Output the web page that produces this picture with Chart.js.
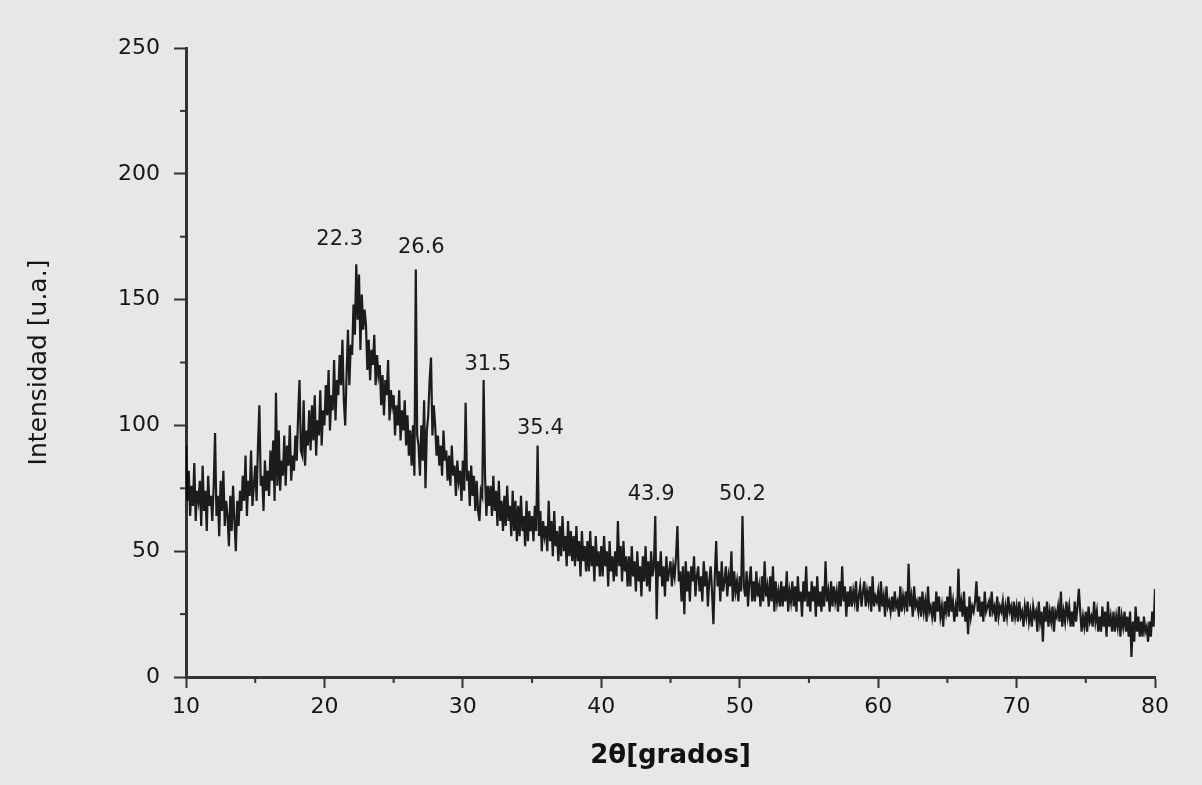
<!DOCTYPE html>
<html>
<head>
<meta charset="utf-8">
<title>Difractograma</title>
<script src="https://cdn.jsdelivr.net/npm/chart.js@4.4.1/dist/chart.umd.min.js"></script>
<style>
	html, body { margin: 0; padding: 0; background: #e7e7e7; }
	#graficoDRX { display: block; }
</style>
</head>
<body>
<canvas id="graficoDRX" width="1202" height="785"></canvas>
<script>
/* Datos del difractograma (2θ de 10 a 80, paso 0.1) */
var inicio2Theta = 10;
var paso2Theta = 0.1;

var intensidad = [
	92, 70, 82, 64, 76, 68, 85, 62, 74, 70,
	78, 60, 84, 66, 74, 58, 80, 68, 72, 62,
	76, 97, 64, 72, 56, 78, 66, 82, 60, 70,
	64, 52, 72, 58, 76, 62, 50, 70, 60, 74,
	66, 80, 70, 88, 64, 78, 72, 90, 68, 76,
	84, 70, 92, 108, 76, 80, 66, 86, 74, 82,
	72, 90, 78, 94, 70, 113, 76, 98, 74, 86,
	80, 96, 76, 92, 84, 100, 78, 88, 82, 96,
	86, 104, 118, 90, 88, 110, 84, 98, 92, 106,
	90, 108, 94, 112, 88, 102, 96, 114, 92, 106,
	100, 116, 104, 122, 98, 112, 106, 126, 102, 118,
	112, 128, 116, 134, 110, 100, 120, 138, 116, 132,
	128, 148, 136, 164, 142, 160, 130, 152, 138, 146,
	140, 122, 134, 118, 130, 124, 136, 116, 128, 120,
	124, 108, 120, 104, 118, 112, 126, 102, 114, 108,
	112, 96, 108, 100, 114, 94, 106, 98, 110, 92,
	104, 88, 98, 84, 100, 80, 162, 96, 92, 80,
	100, 86, 110, 75, 98, 104, 118, 127, 96, 108,
	100, 88, 96, 84, 92, 80, 98, 86, 90, 78,
	88, 76, 92, 80, 84, 72, 86, 78, 82, 70,
	86, 74, 109, 78, 82, 68, 84, 72, 80, 66,
	78, 66, 62, 74, 72, 118, 80, 64, 76, 68,
	76, 64, 80, 66, 74, 60, 78, 62, 70, 58,
	72, 60, 76, 62, 68, 56, 74, 58, 70, 54,
	68, 56, 72, 58, 64, 52, 70, 54, 66, 58,
	64, 54, 68, 58, 92, 56, 66, 50, 62, 56,
	60, 50, 70, 54, 62, 48, 66, 52, 58, 46,
	60, 48, 64, 50, 56, 44, 62, 48, 58, 46,
	56, 44, 60, 46, 54, 40, 58, 46, 52, 42,
	54, 42, 58, 44, 52, 38, 56, 44, 50, 40,
	52, 40, 56, 44, 50, 36, 54, 42, 48, 38,
	50, 40, 62, 44, 52, 38, 54, 42, 48, 36,
	48, 36, 52, 40, 46, 34, 50, 38, 44, 32,
	48, 38, 52, 36, 46, 34, 50, 40, 44, 64,
	23, 46, 40, 50, 36, 44, 32, 48, 38, 42,
	46, 36, 44, 40, 48, 60, 38, 42, 30, 44,
	25, 46, 34, 42, 30, 44, 38, 48, 32, 40,
	44, 34, 40, 30, 46, 36, 42, 28, 38, 44,
	34, 21, 40, 54, 36, 42, 30, 46, 34, 38,
	44, 32, 40, 36, 50, 30, 42, 34, 38, 30,
	40, 34, 64, 36, 32, 42, 28, 38, 44, 30,
	38, 30, 42, 32, 36, 28, 40, 30, 46, 32,
	36, 28, 40, 30, 44, 26, 38, 30, 34, 28,
	38, 28, 36, 30, 42, 26, 34, 30, 38, 28,
	36, 26, 40, 30, 34, 24, 38, 30, 44, 28,
	34, 26, 38, 30, 36, 24, 40, 28, 34, 26,
	36, 28, 46, 30, 34, 26, 38, 28, 36, 30,
	34, 26, 38, 28, 44, 30, 36, 24, 34, 28,
	36, 28, 34, 30, 38, 26, 32, 36, 28, 34,
	38, 28, 34, 30, 36, 26, 40, 28, 32, 30,
	34, 26, 38, 28, 32, 24, 36, 28, 30, 26,
	32, 26, 34, 28, 30, 24, 36, 26, 32, 28,
	34, 26, 45, 28, 32, 24, 36, 28, 30, 26,
	32, 24, 34, 26, 30, 22, 36, 26, 28, 24,
	30, 22, 34, 26, 32, 24, 28, 20, 30, 26,
	32, 24, 36, 26, 30, 22, 28, 24, 43, 26,
	30, 24, 34, 22, 28, 17, 32, 24, 28, 26,
	30, 38, 26, 32, 24, 30, 22, 34, 26, 28,
	30, 24, 34, 26, 28, 22, 32, 24, 28, 26,
	30, 22, 28, 24, 32, 26, 28, 22, 30, 24,
	28, 22, 30, 24, 26, 20, 28, 24, 30, 22,
	26, 20, 28, 24, 26, 18, 30, 22, 26, 14,
	28, 22, 30, 20, 26, 22, 28, 18, 26, 24,
	28, 22, 34, 20, 26, 22, 30, 24, 28, 20,
	26, 20, 30, 22, 28, 35, 26, 18, 24, 20,
	26, 18, 28, 22, 24, 20, 30, 22, 26, 18,
	24, 18, 28, 20, 26, 16, 30, 20, 24, 18,
	26, 18, 24, 20, 28, 16, 24, 20, 26, 18,
	24, 16, 26, 8, 22, 14, 28, 18, 24, 16,
	22, 16, 24, 18, 20, 14, 22, 16, 26, 20,
	35
];

/* Picos marcados */
var picos = ['22.3', '26.6', '31.5', '35.4', '43.9', '50.2'];
var picosEtiquetaX = [21.1, 27.0, 31.8, 35.6, 43.6, 50.2];
var picosEtiquetaY = [174, 170.5, 124, 98.6, 72.7, 72.7];

/* Marcas de los ejes */
var marcasX = [10, 20, 30, 40, 50, 60, 70, 80];
var marcasY = [0, 50, 100, 150, 200, 250];
var marcasMenoresX = [15, 25, 35, 45, 55, 65, 75];
var marcasMenoresY = [25, 75, 125, 175, 225];

var fuente = "'DejaVu Sans', Verdana, sans-serif";

var puntos = intensidad.map(function(v, i) {
	return { x: +(inicio2Theta + i * paso2Theta).toFixed(1), y: v };
});

var pluginFondo = {
	id: 'fondo',
	beforeDraw: function(chart) {
		var ctx = chart.ctx;
		ctx.save();
		ctx.fillStyle = '#e7e7e7';
		ctx.fillRect(0, 0, chart.width, chart.height);
		ctx.restore();
	}
};

var pluginMarcasMenores = {
	id: 'marcasMenores',
	afterDraw: function(chart) {
		var ctx = chart.ctx;
		var ejeX = chart.scales.x;
		var ejeY = chart.scales.y;
		ctx.save();
		ctx.strokeStyle = '#333';
		ctx.lineWidth = 2;
		marcasMenoresX.forEach(function(v) {
			var px = ejeX.getPixelForValue(v);
			ctx.beginPath();
			ctx.moveTo(px, ejeY.bottom);
			ctx.lineTo(px, ejeY.bottom + 6);
			ctx.stroke();
		});
		marcasMenoresY.forEach(function(v) {
			var py = ejeY.getPixelForValue(v);
			ctx.beginPath();
			ctx.moveTo(ejeX.left, py);
			ctx.lineTo(ejeX.left - 6, py);
			ctx.stroke();
		});
		ctx.restore();
	}
};

var pluginPicos = {
	id: 'picos',
	afterDatasetsDraw: function(chart) {
		var ctx = chart.ctx;
		ctx.save();
		ctx.font = '21px ' + fuente;
		ctx.fillStyle = '#1a1a1a';
		ctx.textAlign = 'center';
		ctx.textBaseline = 'middle';
		picos.forEach(function(texto, i) {
			var px = chart.scales.x.getPixelForValue(picosEtiquetaX[i]);
			var py = chart.scales.y.getPixelForValue(picosEtiquetaY[i]);
			ctx.fillText(texto, px, py);
		});
		ctx.restore();
	}
};

var grafico = new Chart(document.getElementById('graficoDRX').getContext('2d'), {
	type: 'line',
	data: {
		datasets: [{
			label: 'Intensidad',
			data: puntos,
			borderColor: 'rgba(0,0,0,0.88)',
			borderWidth: 2.2,
			pointRadius: 0,
			tension: 0
		}]
	},
	options: {
		responsive: false,
		animation: false,
		layout: { padding: { top: 48, right: 47, left: 0, bottom: 0 } },
		plugins: {
			legend: { display: false },
			tooltip: { enabled: false }
		},
		scales: {
			x: {
				type: 'linear',
				min: 10,
				max: 80,
				afterBuildTicks: function(eje) {
					eje.ticks = marcasX.map(function(v) { return { value: v }; });
				},
				afterFit: function(eje) { eje.height = 108; },
				border: { display: true, color: '#333', width: 3 },
				grid: { display: true, drawOnChartArea: false, tickLength: 11, tickColor: '#333', tickWidth: 2 },
				ticks: { color: '#151515', font: { family: fuente, size: 22 }, padding: 6, maxRotation: 0 },
				title: {
					display: true,
					text: '2θ[grados]',
					color: '#111',
					font: { family: fuente, size: 26, weight: 'bold' },
					padding: { top: 0, bottom: 13 }
				}
			},
			y: {
				min: 0,
				max: 250,
				afterBuildTicks: function(eje) {
					eje.ticks = marcasY.map(function(v) { return { value: v }; });
				},
				afterFit: function(eje) { eje.width = 186; },
				border: { display: true, color: '#333', width: 3 },
				grid: { display: true, drawOnChartArea: false, tickLength: 12, tickColor: '#333', tickWidth: 2 },
				ticks: { color: '#151515', font: { family: fuente, size: 22 }, padding: 14 },
				title: {
					display: true,
					text: 'Intensidad [u.a.]',
					color: '#151515',
					font: { family: fuente, size: 25 },
					padding: { top: 24, bottom: 0 }
				}
			}
		}
	},
	plugins: [pluginFondo, pluginMarcasMenores, pluginPicos]
});
</script>
</body>
</html>
